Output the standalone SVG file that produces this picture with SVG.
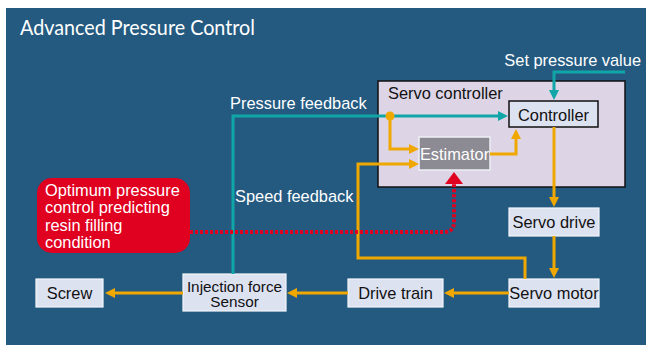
<svg xmlns="http://www.w3.org/2000/svg" width="646" height="345" viewBox="0 0 646 345">
<defs>
<marker id="ao" markerUnits="userSpaceOnUse" markerWidth="10" markerHeight="10" refX="4" refY="5" orient="auto"><path d="M0,0 L10,5 L0,10 z" fill="#f0a800"/></marker>
<marker id="at" markerUnits="userSpaceOnUse" markerWidth="10" markerHeight="10" refX="4" refY="5" orient="auto"><path d="M0,0 L10,5 L0,10 z" fill="#10a6a8"/></marker>
</defs>
<style>
.lbl{font-family:"Liberation Sans",Arial,Helvetica,sans-serif;font-size:16.4px}
.sm{font-size:15.3px}
.w{fill:#ffffff}
.k{fill:#111111}
.c{text-anchor:middle}
.node{fill:#dde2f1;stroke:#f4f6fb;stroke-width:1.2}
.or{fill:none;stroke:#f0a800;stroke-width:3}
.te{fill:none;stroke:#10a6a8;stroke-width:3}
</style>
<rect x="6" y="8" width="640" height="337" fill="#245a80"/>
<text x="20" y="35" font-family="Lato,'Liberation Sans',sans-serif" font-size="21" fill="#ffffff" textLength="235" lengthAdjust="spacingAndGlyphs">Advanced Pressure Control</text>

<g id="servo-controller">
<rect x="378" y="81" width="247" height="106" fill="#ddd5e6" stroke="#111" stroke-width="1.5"/>
<text class="lbl k" x="388" y="99">Servo controller</text>
</g>
<g id="controller">
<rect x="509" y="101" width="89" height="26" fill="#dde2f1" stroke="#111" stroke-width="1.5"/>
<text class="lbl k c" x="553.5" y="120.5">Controller</text>
</g>
<g id="estimator">
<rect x="419" y="137" width="71" height="33" fill="#8c8a92" stroke="#eeeef4" stroke-width="1.5"/>
<text class="lbl w c" x="454.5" y="159.5">Estimator</text>
</g>
<g id="servo-drive">
<rect class="node" x="509" y="208" width="90" height="28"/>
<text class="lbl k c" x="554" y="228">Servo drive</text>
</g>
<g id="servo-motor">
<rect class="node" x="509" y="279" width="90" height="28"/>
<text class="lbl k c" x="554" y="299">Servo motor</text>
</g>
<g id="drive-train">
<rect class="node" x="348" y="279" width="95" height="28"/>
<text class="lbl k c" x="395.5" y="299">Drive train</text>
</g>
<g id="injection-force-sensor">
<rect class="node" x="183" y="274" width="103" height="37"/>
<text class="lbl sm k c" x="234.5" y="291.5">Injection force</text>
<text class="lbl sm k c" x="234.5" y="307">Sensor</text>
</g>
<g id="screw">
<rect class="node" x="36" y="279" width="67" height="28"/>
<text class="lbl k c" x="69.5" y="299">Screw</text>
</g>
<g id="optimum">
<rect x="37" y="178" width="153" height="75" rx="15" fill="#e0001f"/>
<text class="lbl w" x="45" y="196">Optimum pressure</text>
<text class="lbl w" x="45" y="213.3">control predicting</text>
<text class="lbl w" x="45" y="230.7">resin filling</text>
<text class="lbl w" x="45" y="248">condition</text>
</g>

<g id="connectors">
<path class="te" d="M625,72 H554 V94" marker-end="url(#at)"/>
<path class="te" d="M233,274 V116 H502" marker-end="url(#at)"/>
<path class="or" d="M390,116 V149 H413" marker-end="url(#ao)"/>
<circle cx="390" cy="116" r="4.5" fill="#f0a800"/>
<path class="or" d="M525,279 V258 H358 V164 H413" marker-end="url(#ao)"/>
<path class="or" d="M490,154 H516 V135" marker-end="url(#ao)"/>
<path class="or" d="M554,127 V201" marker-end="url(#ao)"/>
<path class="or" d="M554,236 V272" marker-end="url(#ao)"/>
<path class="or" d="M509,293 H450" marker-end="url(#ao)"/>
<path class="or" d="M348,293 H293" marker-end="url(#ao)"/>
<path class="or" d="M183,293 H111" marker-end="url(#ao)"/>
<path d="M190,232 H444 Q454,232 454,222 V184" fill="none" stroke="#e0001f" stroke-width="4" stroke-dasharray="3 2"/>
<polygon points="454,172 463,184 445,184" fill="#e0001f"/>
</g>

<text class="lbl w" x="230" y="109">Pressure feedback</text>
<text class="lbl w" x="641" y="66" text-anchor="end">Set pressure value</text>
<text class="lbl w" x="235" y="202">Speed feedback</text>
</svg>
